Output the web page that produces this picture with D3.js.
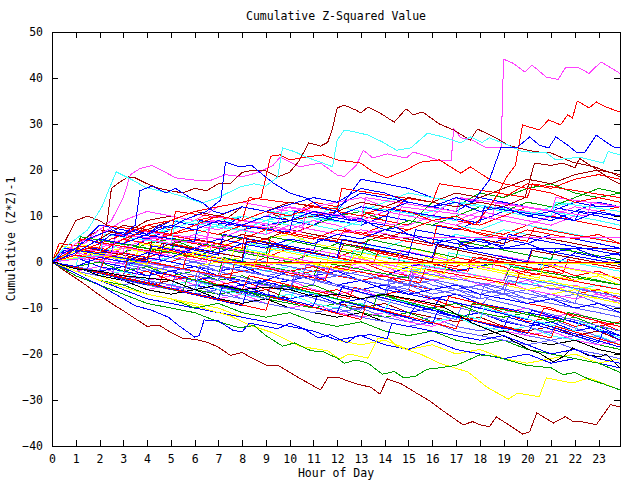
<!DOCTYPE html>
<html>
<head>
<meta charset="utf-8">
<script src="https://cdn.jsdelivr.net/npm/d3@7"></script>
<style>
  body { margin: 0; background: #fff; }
  text { font-family: "DejaVu Sans Mono", monospace; font-size: 11.5px; fill: #000; }
</style>
</head>
<body>
<svg id="chart"></svg>
<script>
const lastHour = 23.9
const hourTicks = d3.range(0, 24)
const valueTicks = d3.range(-40, 51, 10)

const palette = {
  r: '#ff0000', g: '#00a000', b: '#0000ff', m: '#ff40ff', c: '#40ffff',
  d: '#a00000', y: '#ffff00', l: '#6060ff', k: '#000000'
}

// one value per hour (last one at 23.9)
const hourly = [
  ['r', [0,2,5,4,8,7,9,8,12,11,10,13,12,11,10,14,13,12,15,14,17,16,18,19,18]],
  ['b', [0,3,8,7,6,9,8,7,10,9,11,10,12,15,14,13,12,11,14,13,12,11,13,12,12]],
  ['g', [0,1,3,5,4,6,7,6,5,7,9,8,10,11,9,8,13,12,15,14,16,17,15,14,15]],
  ['d', [0,4,7,6,9,10,9,8,12,11,9,10,11,13,12,14,13,15,14,16,18,17,19,20,19]],
  ['c', [0,2,4,6,5,8,7,9,10,9,8,9,10,12,11,10,11,13,12,11,10,12,13,14,13]],
  ['m', [0,3,6,9,11,10,9,12,13,12,11,12,13,14,12,11,10,14,13,12,11,10,12,11,10]],
  ['b', [0,1,3,2,5,4,6,5,7,8,9,8,11,18,17,16,14,13,12,11,13,12,11,10,9]],
  ['r', [0,2,4,3,5,7,9,10,12,11,10,12,11,10,9,8,10,9,8,10,12,11,9,8,7]],
  ['l', [0,1,0,-1,-2,-1,0,-1,-2,-3,-2,-4,-3,-4,-5,-4,-6,-5,-6,-7,-6,-8,-7,-9,-10]],
  ['r', [0,-1,1,0,2,3,1,0,-1,1,3,2,1,0,-1,-2,-1,1,0,-1,-3,-2,-4,-3,-5]],
  ['b', [0,2,1,3,2,1,3,5,4,3,5,4,6,5,7,6,5,4,3,5,4,6,5,4,3]],
  ['m', [0,1,2,1,0,2,3,4,2,1,0,-1,-2,0,-1,-3,-2,-4,-3,-5,-4,-6,-5,-7,-8]],
  ['c', [0,-1,-2,-1,0,1,2,0,-1,-2,-1,-3,-2,-4,-3,-2,-1,-2,-3,-4,-5,-4,-6,-5,-6]],
  ['g', [0,1,2,4,3,2,1,3,2,1,0,2,4,3,1,0,-1,-2,-1,0,-2,-1,-3,-4,-5]],
  ['y', [0,2,1,0,-1,-2,-1,0,1,0,-1,-2,-3,-4,-3,-5,-4,-6,-5,-4,-6,-7,-6,-8,-9]],
  ['d', [0,-2,-3,-4,-5,-4,-6,-5,-7,-6,-8,-7,-9,-10,-9,-11,-12,-13,-12,-14,-15,-14,-16,-15,-17]],
  ['b', [0,-1,-3,-2,-4,-3,-5,-6,-5,-7,-8,-7,-9,-8,-10,-11,-10,-12,-11,-13,-14,-13,-15,-14,-16]],
  ['r', [0,3,2,4,6,5,4,3,5,7,6,8,7,6,5,7,9,8,7,6,8,10,9,11,12]],
  ['l', [0,-1,0,-2,-1,-3,-2,-4,-3,-5,-4,-3,-5,-4,-6,-5,-7,-6,-8,-7,-9,-8,-10,-9,-11]],
  ['m', [0,-2,-1,-3,-4,-3,-5,-4,-6,-5,-4,-6,-7,-6,-8,-9,-8,-10,-9,-11,-10,-12,-11,-13,-14]],
  ['c', [0,1,3,2,4,3,5,4,3,2,4,6,5,4,3,5,4,6,5,7,6,5,4,3,2]],
  ['r', [0,-1,-2,-3,-2,-4,-3,-5,-4,-6,-5,-7,-6,-8,-7,-6,-8,-10,-9,-11,-13,-12,-14,-13,-15]],
  ['b', [0,1,-1,-2,-3,-2,-1,-3,-4,-5,-4,-3,-2,-4,-3,-1,0,-2,-1,1,0,-1,2,1,0]],
  ['g', [0,-1,-2,-3,-4,-5,-6,-7,-6,-8,-9,-10,-9,-11,-12,-11,-13,-12,-14,-15,-16,-15,-17,-18,-19]],
  ['y', [0,4,3,5,4,3,2,4,3,5,6,4,3,2,1,3,2,0,-1,-2,-1,-3,-4,-3,-5]],
  ['m', [0,2,4,3,5,6,8,7,9,8,7,9,8,6,7,8,10,9,11,10,9,8,10,9,8]],
  ['l', [0,-2,-3,-5,-4,-6,-7,-6,-8,-9,-10,-9,-11,-10,-12,-13,-12,-14,-15,-14,-16,-17,-16,-18,-17]],
  ['b', [0,2,4,6,5,7,9,8,10,9,11,10,9,8,10,9,8,7,9,11,10,9,11,13,12]],
  ['r', [0,1,0,-1,-3,-2,-4,-3,-2,-1,-3,-2,-1,0,-2,-3,-4,-3,-5,-4,-6,-5,-7,-6,-8]],
  ['c', [0,2,1,3,5,4,6,8,7,9,10,8,7,9,11,10,9,8,7,9,8,7,6,5,4]],
  ['g', [0,1,3,2,4,5,3,2,4,3,5,4,6,5,7,9,8,10,12,11,13,12,14,16,15]],
  ['l', [0,1,2,0,-1,1,0,-2,-1,-3,-2,-4,-3,-2,-4,-5,-4,-6,-5,-7,-8,-7,-9,-10,-11]],
  ['r', [0,2,1,3,2,4,3,2,4,5,3,2,1,3,2,1,0,-1,1,0,-2,-1,-3,-2,-4]],
  ['y', [0,-1,-3,-5,-7,-8,-9,-10,-12,-13,-14,-15,-17,-18,-17,-19,-18,-20,-19,-21,-22,-21,-20,-22,-21]],
  ['b', [0,-2,-4,-6,-8,-9,-10,-11,-12,-13,-14,-15,-17,-16,-18,-19,-17,-19,-20,-21,-20,-22,-21,-22,-23]],
  ['m', [0,-1,-3,-4,-6,-5,-7,-8,-7,-9,-10,-9,-11,-12,-11,-13,-14,-12,-14,-15,-16,-15,-17,-18,-17]],
  ['g', [0,-2,-4,-5,-7,-8,-10,-9,-11,-12,-11,-13,-14,-13,-15,-16,-15,-17,-18,-17,-19,-20,-21,-22,-24]],
  ['c', [0,-1,-3,-2,-4,-5,-4,-6,-7,-8,-7,-9,-10,-9,-11,-12,-13,-12,-14,-15,-14,-16,-17,-16,-18]],
  ['r', [0,1,3,2,1,0,2,1,0,-1,-2,-1,-3,-4,-3,-5,-6,-5,-7,-8,-9,-10,-12,-14,-13]],
  ['b', [0,1,0,-1,1,0,-1,-2,-1,-3,-4,-3,-5,-6,-5,-7,-8,-7,-9,-10,-11,-12,-13,-15,-16]],
  ['l', [0,2,1,3,2,1,0,2,1,0,-1,-2,-3,-2,-4,-3,-5,-6,-7,-6,-8,-9,-10,-11,-12]],
  ['d', [0,1,2,3,2,4,5,4,6,5,7,6,5,4,6,5,4,3,5,4,6,5,4,3,2]],
  ['m', [0,1,0,2,1,3,2,1,0,-1,1,0,-2,-1,-3,-2,-4,-3,-5,-4,-6,-7,-8,-7,-9]],
  ['c', [0,3,2,4,6,7,9,8,10,9,11,10,12,11,13,15,14,13,12,11,10,11,10,9,8]],
  ['k', [0,-1,-3,-4,-6,-7,-6,-8,-9,-8,-10,-11,-12,-11,-13,-14,-13,-15,-16,-15,-17,-18,-17,-19,-20]],
  ['b', [0,-1,-2,-1,-3,-2,-4,-3,-5,-4,-2,-3,-5,-4,-6,-7,-6,-5,-7,-8,-9,-8,-10,-9,-11]],
  ['r', [0,2,3,5,4,6,7,6,8,7,6,5,7,6,8,7,9,8,6,5,7,6,5,6,4]],
  ['g', [0,-1,0,-2,-1,-3,-2,-4,-3,-5,-6,-5,-7,-8,-7,-9,-10,-9,-11,-12,-11,-13,-12,-14,-15]],
  ['l', [0,-1,-2,-4,-5,-6,-5,-7,-8,-9,-10,-11,-10,-12,-13,-14,-13,-15,-16,-17,-18,-17,-19,-20,-21]],
  ['y', [0,1,2,3,2,1,3,2,4,3,2,1,0,1,-1,-2,-3,-4,-3,-5,-6,-5,-7,-8,-9]],
  ['m', [0,2,3,5,7,6,8,9,8,10,12,11,10,9,11,10,9,8,10,9,8,10,12,11,10]]
]

// slow drift down with sudden jumps up: [hour, value]
const sawtooth = [
  ['r', [[0,0],[0.3,4],[2,3],[2.2,8],[5,6],[5.2,11],[8,9],[8.3,14],[12,11.5],[12.2,16],[16,13],[16.3,17],[20,14],[20.2,17],[23.9,14]]],
  ['b', [[0,0],[1.5,-1.5],[1.7,3],[4.5,0.5],[4.7,4],[7,1.5],[7.2,6],[11,2.5],[11.2,5],[15,1.5],[15.3,7],[19,3.5],[19.2,6],[23.9,1.5]]],
  ['l', [[0,0],[2.5,-3],[2.7,0],[6,-4],[6.2,-1],[10,-6],[10.3,-3],[14,-8],[14.2,-5.5],[18,-10],[18.3,-8],[23.9,-15]]],
  ['m', [[0,0],[0.5,3],[3,2],[3.2,7],[6.5,5],[6.7,10],[9.5,8],[9.7,12],[13,9.5],[13.2,14],[17,11],[17.2,14],[21,11],[21.2,14],[23.9,12]]],
  ['c', [[0,0],[1,-1],[1.2,2.5],[4,0],[4.2,3],[8,-0.5],[8.3,4],[12.5,0],[12.7,2.5],[16.5,-1.5],[16.7,2],[20.5,-2],[20.7,1],[23.9,-2]]],
  ['g', [[0,0],[3,-3],[3.2,0.5],[7,-3],[7.2,1],[11,-3],[11.3,0],[15,-3.5],[15.2,-0.5],[19,-4],[19.3,-1],[23.9,-5]]],
  ['r', [[0,0],[2,-2],[2.3,1.5],[5.5,-1.5],[5.7,2],[9,-1],[9.2,3.5],[13.5,-0.5],[13.7,2],[17.5,-2],[17.7,1],[21.5,-2.5],[21.7,0.5],[23.9,-1.5]]],
  ['b', [[0,0],[4,-5],[4.2,-2],[8.5,-7],[8.7,-4],[12,-8],[12.2,-5.5],[16,-10.5],[16.3,-8],[20,-12.5],[20.2,-10.5],[23.9,-16]]],
  ['y', [[0,0],[0.4,3.5],[3.5,0.5],[3.7,4],[7.5,0.5],[7.7,3],[11.5,-1],[11.7,2],[15.5,-2],[15.7,1],[19.5,-3],[23.9,-7]]],
  ['l', [[0,0],[5,-6],[5.2,-3],[9,-8],[9.2,-5.5],[13,-10.5],[13.3,-7.5],[17,-12.5],[17.2,-10],[21,-15.5],[21.3,-13],[23.9,-18]]],
  ['r', [[0,0],[1,1.5],[1.2,5],[4.5,2],[4.7,6],[8,3],[8.2,8],[12,4.5],[12.3,7],[16,3.5],[16.2,8],[20,4.5],[20.3,7.5],[23.9,4]]],
  ['m', [[0,0],[3.5,-3.5],[3.7,0],[7,-3],[7.3,0.5],[11.5,-3.5],[11.7,-1],[15,-4],[15.2,-0.5],[19,-4],[19.2,-1.5],[23.9,-6]]],
  ['b', [[0,0],[0.5,2.5],[2.5,2],[2.7,6.5],[6,4.5],[6.2,9],[10,6.5],[10.2,11],[14,8],[14.2,11.5],[18,8.5],[18.2,12],[22,9],[22.2,11],[23.9,10]]],
  ['c', [[0,0],[6,-7],[6.2,-4],[10,-8.5],[10.2,-6],[14,-10.5],[14.3,-8],[18,-12.5],[18.2,-10],[22,-15],[22.2,-13],[23.9,-16.5]]],
  ['g', [[0,0],[1,2],[1.2,5.5],[5,2],[5.2,5],[9,1.5],[9.2,5.5],[13,1.5],[13.3,5],[17,1],[17.2,4.5],[21,0.5],[21.2,3],[23.9,0.5]]],
  ['r', [[0,0],[4.5,-5],[4.7,-2.5],[8,-6],[8.3,-3],[12.5,-8],[12.7,-5.5],[16.5,-10],[16.7,-7.5],[20.5,-12],[20.7,-10],[23.9,-14]]],
  ['l', [[0,0],[2,-2],[2.2,1.5],[6.5,-2.5],[6.7,0.5],[10.5,-3.5],[10.7,-0.5],[15,-5],[15.2,-2],[19,-5.5],[19.2,-3],[23.9,-7.5]]],
  ['b', [[0,0],[7,-8],[7.2,-5],[11,-9.5],[11.2,-7],[15,-12],[15.3,-9.5],[19,-14.5],[19.2,-12],[23,-17.5],[23.2,-15],[23.9,-17]]],
  ['d', [[0,0],[1.5,3],[4,0.5],[4.2,4.5],[8,1],[8.2,5],[12,1],[12.3,4],[16,0],[16.2,3.5],[20,-0.5],[20.2,2.5],[23.9,-1]]],
  ['m', [[0,0],[0.3,2],[3,-0.5],[3.2,3],[6.5,0],[6.7,3.5],[10.5,0],[10.7,3],[14.5,-1],[14.7,2.5],[18.5,-1.5],[18.7,1.5],[22.5,-2],[23.9,-3.5]]],
  ['c', [[0,0],[2,1.5],[2.2,6],[5,4],[5.2,9],[9,6],[9.2,11],[13,8],[13.2,12],[17,9],[17.2,13],[21,10],[21.2,13],[23.9,11]]],
  ['b', [[0,0],[8,-9.5],[8.2,-6.5],[12,-11],[12.2,-8.5],[16,-13.5],[16.2,-11],[20,-15.5],[20.3,-13],[23.9,-18.5]]],
  ['r', [[0,0],[3,-3],[3.2,1],[7.5,-3.5],[7.7,0],[11.5,-4],[11.7,-1],[15.5,-4.5],[15.7,-1.5],[19.5,-5],[19.7,-2],[23.9,-6]]],
  ['g', [[0,0],[5.5,-6.5],[5.7,-3.5],[9.5,-8],[9.7,-5],[13.5,-10],[13.7,-7],[17.5,-12],[17.7,-9],[21.5,-13],[21.7,-11],[23.9,-13.5]]],
  ['y', [[0,0],[1,2.5],[4,-0.5],[4.2,3],[8.5,-1],[8.7,2],[12.5,-2],[12.7,1.5],[16.5,-2.5],[16.7,0.5],[20.5,-3.5],[20.7,-0.5],[23.9,-3.5]]],
  ['l', [[0,0],[3,-3],[3.2,0],[7,-4],[7.2,-1],[11,-5],[11.2,-2],[15,-6],[15.2,-3],[19,-7],[19.2,-4],[23.9,-8.5]]],
  ['b', [[0,0],[0.5,3],[4,0],[4.2,3.5],[8,0],[8.2,4.5],[12,1],[12.2,5],[16,1],[16.2,4],[20,0],[20.2,3],[23.9,-0.5]]],
  ['m', [[0,0],[2.5,1.5],[2.7,6],[6.5,4],[6.7,9],[10.5,6.5],[10.7,11],[14.5,8],[14.7,12],[18.5,9.5],[18.7,13],[22.5,10],[22.7,13],[23.9,12]]],
  ['l', [[0,0],[6,-6],[6.2,-2.5],[10,-6],[10.2,-3],[14,-7],[14.2,-4],[18,-8],[18.2,-5],[22,-9],[22.2,-6],[23.9,-7.5]]],
  ['r', [[0,0],[9,-10.5],[9.2,-7.5],[13,-12.5],[13.2,-9.5],[17,-14.5],[17.2,-12],[21,-16.5],[21.2,-14],[23.9,-18]]]
]

// lines read point by point: [hour, value]
const traced = [
  ['y', [[0,0],[1,-1],[2,1],[3,0],[4,2],[5,1],[6,2],[7,1],[8,-0.4],[23.9,-0.4]]],
  ['r', [[0,0],[1,1.5],[2,0.5],[3,2],[4,1],[5,2.5],[6,1],[7,0],[23.9,0]]],
  ['m', [[0,0],[1,2],[2,1],[3,3],[4,5],[5,4],[6,6],[7,5],[8,7],[9,6],[10,8],[11,7],[12,6],[13,7],[14.2,6],[14.3,5.4],[23.9,5.4]]],
  ['b', [[0,0],[1,-1],[2,1],[3,0],[4,2],[5,1],[6,3],[7,2],[8,4],[9,3],[10,5],[11,4],[12,6],[13,5],[14,7],[15,6],[16,4],[17,5],[17.5,3],[23.9,3]]],
  ['d', [[0,0],[0.5,-1.8],[1,-3.5],[1.5,-5.3],[2,-7.2],[2.5,-9],[3,-10.6],[3.5,-12.3],[4,-14],[4.5,-13.7],[5,-15.3],[5.5,-16.6],[6,-16.8],[6.5,-17.4],[7,-18.5],[7.5,-20.3],[8,-19.7],[8.5,-21.1],[9,-22.4],[9.5,-22.4],[10,-24],[10.5,-25.5],[11.3,-27.8],[11.6,-25.2],[12.1,-25.2],[12.8,-26.5],[13.4,-27.2],[13.8,-28.7],[14.1,-25.4],[14.7,-26.5],[15.4,-28.7],[15.9,-30.2],[16.3,-31.8],[16.8,-33.6],[17.3,-35.4],[17.7,-34.7],[18,-35.4],[18.4,-35.8],[18.7,-33.7],[19.1,-35],[19.8,-37.4],[20.1,-36.9],[20.4,-32.8],[21.1,-35],[21.6,-33.6],[21.9,-34.6],[22.4,-34.8],[22.9,-35.4],[23.5,-31],[23.9,-31.5]]],
  ['m', [[0,0],[0.5,2],[1,4],[1.5,5],[2,7],[2.5,9],[3,14],[3.3,19],[3.7,20.3],[4.2,21],[4.6,20],[5.2,18.3],[6,17.8],[6.7,17.8],[7.3,19],[8,18.5],[8.7,19.5],[9.3,21],[9.6,22.8],[10.4,20.7],[11.3,21.5],[12,18.9],[12.3,18.6],[12.8,21],[13.1,24.3],[13.5,22.6],[14.1,23.5],[14.9,22.6],[15.2,23.9],[15.8,23],[16.3,22],[16.8,22],[16.9,29],[17.2,27],[17.7,26.5],[18.2,25],[18.9,24.8],[19,44.1],[19.4,43.2],[19.9,41.3],[20.2,42.8],[20.8,40.2],[21.3,39.7],[21.6,42.2],[22.1,42.4],[22.6,41],[23.1,43.5],[23.9,41]]],
  ['d', [[0,0],[0.5,4],[1,9],[1.5,10],[2,9],[2.3,8],[2.5,16],[2.8,17.2],[3.2,18.5],[3.5,18.3],[4,17],[4.5,16],[5,15.5],[5.5,15],[6,16],[6.5,15.5],[7,17],[7.5,17],[8,19.5],[8.5,20],[9,19.8],[9.5,18.5],[10,19.5],[10.4,22],[10.8,25.9],[11.3,25.2],[11.6,26],[11.8,29],[12,33.5],[12.3,34.1],[12.8,33],[13,32.4],[13.3,33.7],[13.8,32.4],[14.4,30.4],[14.9,33.3],[15.2,32],[15.6,32.6],[16.3,30],[16.9,28.7],[17.6,26.5],[17.9,28.9],[18.6,27.2],[19.2,25.4],[19.6,24.8],[20.3,24],[21,23.7],[21.9,21.7],[22.8,20.7],[23.6,19.3],[23.9,18.5]]],
  ['d', [[0,0],[1,2],[2,5],[3,8],[4,7],[5,9],[6,11],[7,10],[8,12],[9,11],[10,13],[11,12],[12,11],[13,13],[14,12],[15,14],[16,13],[17,12],[18,13],[19,12],[19.9,14],[20.3,21.5],[21,21],[21.5,21.5],[22,20.5],[22.2,22.5],[22.8,20.5],[23.5,18],[23.9,17]]],
  ['r', [[0,0],[1,3],[2,2],[3,5],[4,7],[5,6],[6,8],[7,10],[8,9],[9,11],[10,10],[11,12],[12,11],[13,10],[14,12],[15,11],[16,9],[17,10],[17.8,8],[18.4,12],[18.8,15],[19.1,18.3],[19.5,21],[19.8,29.8],[20.5,28.7],[20.9,30.9],[21.4,29.8],[21.7,32],[21.9,31.3],[22.1,35],[22.6,33.5],[22.9,34.8],[23.3,33.7],[23.9,32.6]]],
  ['r', [[0,0],[1,2],[2,4],[3,6],[4,8],[5,9],[6,11],[7,12],[8,13],[8.8,14],[9.2,23],[9.6,23.3],[10,22.2],[10.7,22.8],[11.4,23.3],[12,22.2],[13,21.5],[13.5,19.6],[14.1,18.3],[14.9,20],[15.5,21.7],[16.3,22.2],[17.2,19.3],[17.6,20.7],[18.4,18],[19,17],[20,16],[21,15],[22,13],[23,14],[23.9,13]]],
  ['c', [[0,0],[0.5,3],[1,5],[1.5,7],[2.1,12],[2.7,19.6],[3.4,17.8],[3.9,16.3],[4.5,15.5],[5,15],[5.6,14.1],[6.3,12.8],[7,14],[7.9,16.3],[8.5,17],[9,16.5],[9.5,18.5],[9.7,24.8],[10.2,24],[10.7,22.8],[11.4,21.5],[11.8,20.7],[12,26.5],[12.3,28.7],[12.7,28.3],[13.3,27.6],[13.9,26.1],[14.5,24.3],[15.1,24.8],[15.8,28],[16.3,27.4],[17.2,25.9],[17.6,27.2],[18.1,26],[18.4,27],[19.2,25.4],[19.8,24],[20.8,23.7],[21.2,22.2],[22.2,22.8],[23.2,21.5],[23.4,24],[23.9,23.3]]],
  ['b', [[0,0],[1,2],[2,5],[3,4],[4,6],[5,8],[6,7],[7,9],[8,8],[9,10],[10,9],[11,11],[12,10],[13,12],[14,11],[15,13],[16,12],[17,14],[17.7,13],[18.4,17.8],[18.9,25],[19.6,25],[20.1,27.2],[20.5,25.4],[20.9,24.8],[21.2,27.2],[21.7,25.4],[22.1,23.7],[22.4,23.7],[22.9,27.6],[23.3,26.1],[23.7,24.8],[23.9,25]]],
  ['b', [[0,0],[0.5,2],[1,3],[1.5,5],[2,4],[2.5,6],[3,5.5],[3.5,7],[4,6],[4.5,8],[5,7.5],[5.5,9],[6,10],[6.5,11],[7.1,13.5],[7.3,21.7],[7.9,20.7],[8.4,21],[8.8,19.3],[9.3,17.2],[10,15],[10.7,13.9],[11.4,11.7],[12,11],[12.5,9],[13,9.5],[13.5,8],[14,7],[14.5,7.5],[15,6],[16,5],[17,4],[18,5],[19,3],[20,4],[21,2],[22,3],[23,1],[23.9,2]]],
  ['b', [[0,0],[0.5,1],[1,3],[1.5,5],[2,6],[2.5,7],[3,6],[3.5,8],[3.7,15.5],[4.2,16.5],[4.8,15],[5.2,16],[5.8,14],[6.3,13],[6.8,11],[7.2,10.5],[8,12],[9,11],[10,12.5],[11,14],[12,13],[13,16],[14,15],[15,13],[16,12],[17,13],[18,11],[19,12],[20,10],[21,11],[22,9],[23,11],[23.9,10]]],
  ['k', [[0,0],[1,-1.5],[2,-2],[3,-3],[4,-3.5],[5,-4],[6,-6],[7,-5],[8,-6],[9,-5.5],[10,-6],[11,-7.5],[12,-7],[13,-8],[14,-7],[15,-8],[16.3,-9.3],[17.7,-13.3],[19.1,-16.3],[20.1,-19.1],[20.5,-19.8],[21.1,-21.7],[21.5,-20.6],[21.9,-18.7],[22.5,-20.2],[23.1,-20.6],[23.3,-20],[23.9,-23]]],
  ['y', [[0,0],[1,-2],[2,-4],[3,-5.5],[4,-7],[5,-8],[6,-9.5],[7,-11],[7.5,-11.7],[8.2,-13.5],[9.3,-15.4],[10.4,-18.3],[11.6,-19.3],[12.1,-21.1],[12.5,-20],[13.3,-20.9],[13.7,-16.7],[14.2,-16.7],[14.5,-18.3],[15.5,-20],[16.3,-22],[16.8,-22.8],[17.5,-23.9],[18.3,-27.2],[19.2,-29.8],[19.6,-28.5],[20.5,-29.3],[20.8,-25.2],[21.9,-26.3],[22.6,-25.2],[23.9,-27.8]]],
  ['g', [[0,0],[1,-3],[2,-5],[3,-7],[4,-9],[5,-10],[6,-11],[7,-13],[7.9,-14.3],[8.5,-13.8],[9,-16],[9.7,-18.3],[10.2,-17.6],[10.9,-19.3],[11.4,-19.5],[12,-20.9],[12.3,-22],[12.8,-21.3],[13.3,-22],[13.9,-24.4],[14.4,-23.8],[14.8,-25.2],[15.3,-24.8],[15.8,-23.3],[16.3,-23],[17,-22.5],[18,-20.2],[18.6,-20.5],[19.3,-21.5],[20,-22.5],[21,-23],[21.5,-24.5],[22,-24],[22.6,-25.5],[23.2,-26.5],[23.9,-27.8]]],
  ['b', [[0,0],[1,-2.5],[2,-5],[3,-8],[3.5,-9.5],[4.2,-10.5],[4.9,-12],[5.3,-13.7],[6,-16.3],[6.2,-16],[6.4,-12.6],[7,-12.8],[7.6,-14.8],[8,-15.2],[8.3,-13.3],[9,-14],[9.5,-14.5],[10,-13.3],[10.6,-14.5],[11.2,-16.5],[11.7,-15.8],[12.4,-17.6],[12.8,-16.1],[13.4,-15.8],[14.1,-16.7],[14.3,-13.3],[15,-14],[16,-15],[17,-16],[18,-17],[19,-16],[20,-18],[21,-20],[22,-19],[23,-21],[23.9,-22]]]
]

const width = 640, height = 480
const plot = { left: 52, right: 620, top: 32, bottom: 446 }

const svg = d3.select('#chart')
  .attr('width', width)
  .attr('height', height)

svg.append('rect')
  .attr('width', width)
  .attr('height', height)
  .attr('fill', '#fff')

const x = d3.scaleLinear().domain([0, lastHour]).range([plot.left, plot.right])
const y = d3.scaleLinear().domain([-40, 50]).range([plot.bottom, plot.top])

const series = [
  ...hourly.map(([c, vals]) => ({ color: palette[c], pts: vals.map((v, i) => [Math.min(i, lastHour), v]) })),
  ...sawtooth.map(([c, pts]) => ({ color: palette[c], pts })),
  ...traced.map(([c, pts]) => ({ color: palette[c], pts }))
]

const line = d3.line()
  .x(d => x(d[0]))
  .y(d => y(d[1]))

svg.append('g')
  .selectAll('path')
  .data(series)
  .join('path')
  .attr('d', d => line(d.pts))
  .attr('fill', 'none')
  .attr('stroke', d => d.color)
  .attr('stroke-width', 1)
  .attr('shape-rendering', 'crispEdges')

// axes: ticks point inward on every side
const tidy = g => {
  g.select('.domain').remove()
  g.attr('font-family', null).attr('font-size', null)
  g.selectAll('line').attr('shape-rendering', 'crispEdges')
}

svg.append('g')
  .attr('transform', `translate(0,${plot.bottom})`)
  .call(d3.axisBottom(x).tickValues(hourTicks).tickSize(-6).tickPadding(9).tickFormat(d3.format('d')))
  .call(tidy)

svg.append('g')
  .attr('transform', `translate(0,${plot.top})`)
  .call(d3.axisTop(x).tickValues(hourTicks).tickSize(-6).tickFormat(''))
  .call(tidy)

svg.append('g')
  .attr('transform', `translate(${plot.left},0)`)
  .call(d3.axisLeft(y).tickValues(valueTicks).tickSize(-6).tickPadding(9).tickFormat(d3.format('d')))
  .call(tidy)

svg.append('g')
  .attr('transform', `translate(${plot.right},0)`)
  .call(d3.axisRight(y).tickValues(valueTicks).tickSize(-6).tickFormat(''))
  .call(tidy)

svg.append('rect')
  .attr('x', plot.left)
  .attr('y', plot.top)
  .attr('width', plot.right - plot.left)
  .attr('height', plot.bottom - plot.top)
  .attr('fill', 'none')
  .attr('stroke', '#000')
  .attr('shape-rendering', 'crispEdges')

svg.append('text')
  .attr('x', (plot.left + plot.right) / 2)
  .attr('y', 20)
  .attr('text-anchor', 'middle')
  .text('Cumulative Z-Squared Value')

svg.append('text')
  .attr('x', (plot.left + plot.right) / 2)
  .attr('y', 477)
  .attr('text-anchor', 'middle')
  .text('Hour of Day')

svg.append('text')
  .attr('transform', `translate(15,${(plot.top + plot.bottom) / 2}) rotate(-90)`)
  .attr('text-anchor', 'middle')
  .text('Cumulative (Z*Z)-1')
</script>
</body>
</html>
